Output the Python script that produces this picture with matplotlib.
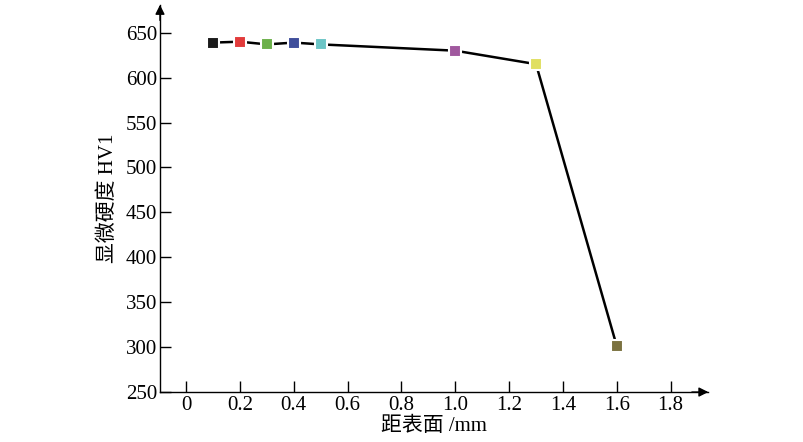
import matplotlib.pyplot as plt

plt.rcParams['font.family'] = ['Liberation Serif', 'Noto Sans CJK SC']

# data
depth = [0.1, 0.2, 0.3, 0.4, 0.5, 1.0, 1.3, 1.6]
hardness = [639, 640, 637, 639, 637, 630, 615, 301]
colors = ['#1a1a1a', '#e23b3b', '#6cb04a', '#3f4e9b', '#6cc5c6', '#a0589e', '#e0df62', '#7b7240']

xticks = [0, 0.2, 0.4, 0.6, 0.8, 1.0, 1.2, 1.4, 1.6, 1.8]
xticklabels = ['0', '0.2', '0.4', '0.6', '0.8', '1.0', '1.2', '1.4', '1.6', '1.8']
yticks = [250, 300, 350, 400, 450, 500, 550, 600, 650]

fig = plt.figure(figsize=(8.04, 4.42), dpi=100)
ax = fig.add_axes([0.199, 0.113, 0.682, 0.876])

ax.plot(depth, hardness, color='black', lw=1.8, zorder=1)
for x, y, c in zip(depth, hardness, colors):
    ax.plot(x, y, 's', ms=8.5, color=c, mec='white', mew=1.5, zorder=2)

ax.set_xlim(-0.097, 1.94)
ax.set_ylim(250, 681)

for s in ['top', 'right']:
    ax.spines[s].set_visible(False)
for s in ['left', 'bottom']:
    ax.spines[s].set_linewidth(1.0)

# arrows on axes
ax.annotate('', xy=(1.0, 0), xytext=(0.97, 0), xycoords='axes fraction',
            arrowprops=dict(arrowstyle='-|>', color='black', lw=1.0,
                            mutation_scale=14, shrinkA=0, shrinkB=0))
ax.annotate('', xy=(0, 1.0), xytext=(0, 0.96), xycoords='axes fraction',
            arrowprops=dict(arrowstyle='-|>', color='black', lw=1.0,
                            mutation_scale=14, shrinkA=0, shrinkB=0))

ax.set_xticks(xticks)
ax.set_xticklabels(xticklabels)
ax.set_yticks(yticks)
ax.tick_params(direction='in', length=8, width=1.0, labelsize=15, pad=3)
ax.tick_params(axis='y', pad=2)

ax.set_xlabel('距表面 /mm', fontsize=15, labelpad=1)
ax.set_ylabel('显微硬度 HV1', fontsize=15, labelpad=6)

fig.savefig('out.png', dpi=100)
